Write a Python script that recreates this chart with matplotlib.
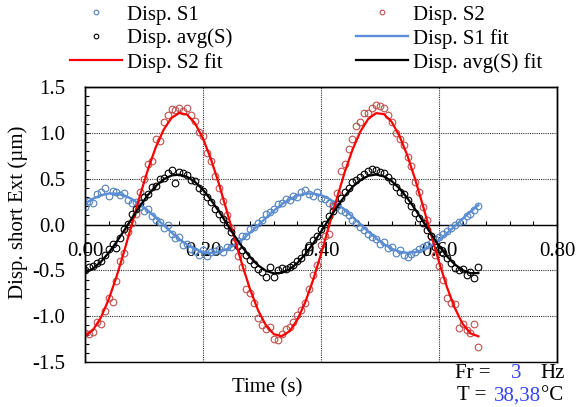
import matplotlib
matplotlib.use('Agg')
import matplotlib.pyplot as plt
from matplotlib.ticker import MultipleLocator, FormatStrFormatter

plt.rcParams['font.family'] = ['Liberation Serif', 'DejaVu Serif']
plt.rcParams['axes.unicode_minus'] = False
plt.rcParams['font.size'] = 15

# ---------------- data ----------------
time_s = [0.0000, 0.0067, 0.0133, 0.0200, 0.0267, 0.0333, 0.0400, 0.0467, 0.0533, 0.0600,
          0.0667, 0.0733, 0.0800, 0.0867, 0.0933, 0.1000, 0.1067, 0.1133, 0.1200, 0.1267,
          0.1333, 0.1400, 0.1467, 0.1533, 0.1600, 0.1667, 0.1733, 0.1800, 0.1867, 0.1933,
          0.2000, 0.2067, 0.2133, 0.2200, 0.2267, 0.2333, 0.2400, 0.2467, 0.2533, 0.2600,
          0.2667, 0.2733, 0.2800, 0.2867, 0.2933, 0.3000, 0.3067, 0.3133, 0.3200, 0.3267,
          0.3333, 0.3400, 0.3467, 0.3533, 0.3600, 0.3667, 0.3733, 0.3800, 0.3867, 0.3933,
          0.4000, 0.4067, 0.4133, 0.4200, 0.4267, 0.4333, 0.4400, 0.4467, 0.4533, 0.4600,
          0.4667, 0.4733, 0.4800, 0.4867, 0.4933, 0.5000, 0.5067, 0.5133, 0.5200, 0.5267,
          0.5333, 0.5400, 0.5467, 0.5533, 0.5600, 0.5667, 0.5733, 0.5800, 0.5867, 0.5933,
          0.6000, 0.6067, 0.6133, 0.6200, 0.6267, 0.6333, 0.6400, 0.6467, 0.6533, 0.6600,
          0.6667]

disp_s1 = [0.19, 0.26, 0.24, 0.33, 0.36, 0.40, 0.31, 0.37, 0.35, 0.32,
           0.34, 0.27, 0.24, 0.25, 0.19, 0.15, 0.17, 0.09, 0.05, 0.03,
           -0.04, -0.01, -0.10, -0.15, -0.14, -0.22, -0.21, -0.27, -0.29, -0.33,
           -0.28, -0.34, -0.30, -0.29, -0.27, -0.30, -0.25, -0.24, -0.19, -0.18,
           -0.13, -0.12, -0.05, -0.03, 0.02, 0.05, 0.11, 0.14, 0.17, 0.22,
           0.24, 0.28, 0.27, 0.31, 0.30, 0.36, 0.38, 0.33, 0.31, 0.35,
           0.29, 0.28, 0.24, 0.22, 0.20, 0.16, 0.14, 0.10, 0.05, 0.02,
           -0.03, -0.06, -0.10, -0.14, -0.16, -0.21, -0.19, -0.26, -0.25, -0.31,
           -0.28, -0.33, -0.35, -0.32, -0.30, -0.27, -0.25, -0.22, -0.20, -0.16,
           -0.14, -0.10, -0.07, -0.04, -0.01, 0.03, 0.04, 0.09, 0.12, 0.16,
           0.20]

disp_s2 = [-1.18, -1.19, -1.17, -1.06, -1.09, -0.94, -0.80, -0.84, -0.62, -0.40,
           -0.31, -0.08, 0.02, 0.12, 0.36, 0.50, 0.66, 0.69, 0.93, 0.91,
           1.12, 1.20, 1.26, 1.25, 1.27, 1.24, 1.27, 1.19, 1.13, 1.01,
           0.97, 0.78, 0.69, 0.53, 0.40, 0.26, 0.10, -0.04, -0.20, -0.34,
           -0.46, -0.70, -0.75, -0.86, -1.02, -1.10, -1.14, -1.12, -1.25, -1.26,
           -1.19, -1.14, -1.12, -1.06, -0.99, -0.93, -0.86, -0.70, -0.55, -0.44,
           -0.22, -0.13, -0.10, 0.20, 0.34, 0.58, 0.66, 0.82, 0.93, 1.08,
           1.12, 1.22, 1.22, 1.27, 1.30, 1.29, 1.27, 1.20, 1.12, 1.00,
           0.93, 0.87, 0.74, 0.64, 0.46, 0.35, 0.19, 0.05, -0.12, -0.33,
           -0.45, -0.60, -0.80, -0.86, -0.87, -1.13, -1.08, -1.15, -1.18, -1.08,
           -1.34]

disp_avg = [-0.50, -0.46, -0.45, -0.42, -0.40, -0.33, -0.27, -0.21, -0.26, -0.15,
            -0.05, 0.01, 0.11, 0.17, 0.23, 0.30, 0.33, 0.41, 0.42, 0.50,
            0.51, 0.56, 0.59, 0.45, 0.57, 0.56, 0.54, 0.49, 0.47, 0.40,
            0.37, 0.30, 0.25, 0.17, 0.12, 0.06, -0.01, -0.08, -0.18, -0.23,
            -0.28, -0.33, -0.39, -0.43, -0.48, -0.52, -0.57, -0.46, -0.57, -0.50,
            -0.47, -0.48, -0.46, -0.44, -0.40, -0.36, -0.30, -0.24, -0.17, -0.12,
            -0.05, 0.01, 0.09, 0.15, 0.22, 0.29, 0.35, 0.40, 0.46, 0.49,
            0.52, 0.55, 0.58, 0.61, 0.59, 0.57, 0.56, 0.52, 0.47, 0.41,
            0.36, 0.33, 0.27, 0.20, 0.13, 0.07, 0.02, -0.06, -0.13, -0.24,
            -0.27, -0.31, -0.37, -0.42, -0.47, -0.50, -0.48, -0.55, -0.52, -0.58,
            -0.46]

fit_time_s = time_s[::2]

fit_s1 = [0.227, 0.281, 0.319, 0.338, 0.337, 0.316, 0.276, 0.220, 0.151, 0.074,
          -0.007, -0.087, -0.160, -0.222, -0.270, -0.300, -0.310, -0.300, -0.271, -0.223,
          -0.161, -0.088, -0.009, 0.072, 0.150, 0.219, 0.275, 0.315, 0.337, 0.338,
          0.320, 0.282, 0.228, 0.160, 0.084, 0.003, -0.077, -0.151, -0.215, -0.265,
          -0.297, -0.310, -0.302, -0.275, -0.230, -0.170, -0.098, -0.019, 0.062, 0.140,
          0.211]

fit_s2 = [-1.216, -1.153, -1.018, -0.820, -0.571, -0.286, 0.016, 0.318, 0.599, 0.844,
          1.035, 1.163, 1.218, 1.197, 1.102, 0.938, 0.716, 0.450, 0.155, -0.149,
          -0.444, -0.712, -0.935, -1.100, -1.196, -1.218, -1.165, -1.038, -0.848, -0.604,
          -0.323, -0.022, 0.281, 0.566, 0.815, 1.015, 1.151, 1.215, 1.204, 1.118,
          0.962, 0.747, 0.485, 0.193, -0.111, -0.408, -0.680, -0.910, -1.083, -1.188,
          -1.220]

fit_avg = [-0.525, -0.482, -0.409, -0.310, -0.192, -0.061, 0.073, 0.204, 0.322, 0.420,
           0.493, 0.535, 0.544, 0.520, 0.463, 0.379, 0.270, 0.146, 0.013, -0.121,
           -0.247, -0.358, -0.445, -0.505, -0.533, -0.528, -0.489, -0.420, -0.324, -0.208,
           -0.078, 0.056, 0.188, 0.308, 0.409, 0.485, 0.531, 0.545, 0.525, 0.472,
           0.391, 0.285, 0.162, 0.030, -0.105, -0.232, -0.345, -0.436, -0.499, -0.531,
           -0.530]

x_ticks = [0.0, 0.2, 0.4, 0.6, 0.8]
y_ticks = [-1.5, -1.0, -0.5, 0.0, 0.5, 1.0, 1.5]

c_s1 = '#4F81BD'
c_s1_fit = '#5B8ED6'
c_s2 = '#C0504D'
c_s2_fit = '#FF0000'
c_avg = '#000000'

# ---------------- figure ----------------
W, H = 579, 407
fig = plt.figure(figsize=(W / 100, H / 100), dpi=100)
pos = [85 / W, 1 - 362 / H, 472 / W, 275 / H]

ax = fig.add_axes(pos)
ax.set_xlim(0, 0.8)
ax.set_ylim(-1.5, 1.5)

mk = dict(linestyle='none', marker='o', mfc='none', ms=4.8, mew=0.8)
h_s1, = ax.plot(time_s, disp_s1, mec=c_s1, label='Disp. S1', zorder=3, **mk)
h_s2, = ax.plot(time_s, disp_s2, mec=c_s2, label='Disp. S2', zorder=3, **mk)
h_avg, = ax.plot(time_s, disp_avg, mec=c_avg, label='Disp. avg(S)', zorder=3, **mk)
h_s1f, = ax.plot(fit_time_s, fit_s1, color=c_s1_fit, lw=1.7, label='Disp. S1 fit', zorder=4)
h_s2f, = ax.plot(fit_time_s, fit_s2, color=c_s2_fit, lw=1.6, label='Disp. S2 fit', zorder=4)
h_avgf, = ax.plot(fit_time_s, fit_avg, color=c_avg, lw=1.6, label='Disp. avg(S) fit', zorder=4)

# axes styling
for s in ['top', 'right', 'left']:
    ax.spines[s].set_linewidth(1.0)
ax.spines['bottom'].set_position(('data', 0))
ax.spines['bottom'].set_linewidth(1.0)

ax.set_xticks(x_ticks)
ax.xaxis.set_major_formatter(FormatStrFormatter('%.2f'))
ax.xaxis.set_minor_locator(MultipleLocator(0.04))
ax.set_yticks(y_ticks)
ax.yaxis.set_major_formatter(FormatStrFormatter('%.1f'))
ax.yaxis.set_minor_locator(MultipleLocator(0.1))

ax.tick_params(axis='x', which='both', direction='in', top=False, pad=12.5,
               labelsize=15, length=3.2, width=0.8)
ax.tick_params(axis='y', which='both', direction='in', right=False, pad=14,
               labelsize=15, length=3.2, width=0.8)

ax.grid(True, which='major', linestyle=(0, (1, 1)), color='#333333', lw=0.8)
ax.set_axisbelow(True)

# frame (bottom edge at -1.5)
frame = fig.add_axes(pos, facecolor='none')
frame.set_xticks([])
frame.set_yticks([])
for s in frame.spines.values():
    s.set_linewidth(1.0)

# legend
handles = [h_s1, h_avg, h_s2f, h_s2, h_s1f, h_avgf]
fig.legend(handles, [h.get_label() for h in handles], ncol=2, loc='upper left',
           bbox_to_anchor=(70 / W, 1 - 5 / H), frameon=False, fontsize=15,
           handlelength=2.5, handletextpad=0.25, columnspacing=5.9,
           labelspacing=0.2, borderpad=0, borderaxespad=0, markerscale=0.7)

# labels
fig.text(18 / W, 1 - 212 / H, 'Disp. short Ext (µm)', rotation=90,
         ha='center', va='center', fontsize=15)
fig.text(267 / W, 1 - 388 / H, 'Time (s)', ha='center', va='center', fontsize=15)

blue_txt = '#3344FF'
fig.text(455 / W, 1 - 374 / H, 'Fr =', ha='left', va='center', fontsize=15)
fig.text(516 / W, 1 - 374 / H, '3', ha='center', va='center', fontsize=15, color=blue_txt)
fig.text(540 / W, 1 - 374 / H, 'Hz', ha='left', va='center', fontsize=15)
fig.text(457 / W, 1 - 396 / H, 'T =', ha='left', va='center', fontsize=15)
fig.text(494 / W, 1 - 396 / H, '38,38', ha='left', va='center', fontsize=15, color=blue_txt)
fig.text(541 / W, 1 - 396 / H, '°C', ha='left', va='center', fontsize=15)

fig.savefig('out.png', dpi=100)
